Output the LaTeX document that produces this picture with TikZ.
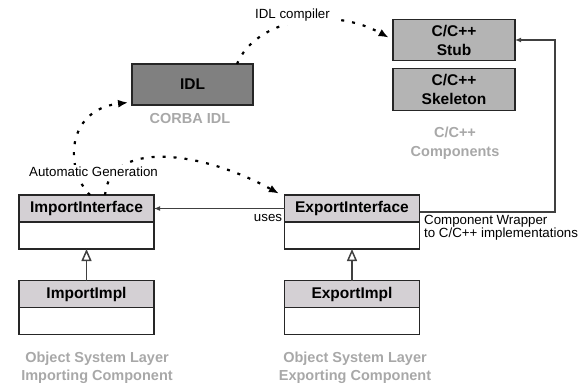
\documentclass[tikz,border=0pt]{standalone}
\usepackage{fontspec}
\setmainfont{Liberation Sans}
\usetikzlibrary{arrows.meta}
\definecolor{hdrgray}{HTML}{D4D0D4}
\definecolor{idlgray}{HTML}{808080}
\definecolor{compgray}{HTML}{B4B4B4}
\definecolor{lblgray}{HTML}{A8A8A8}
\definecolor{linegray}{HTML}{404040}
\begin{document}
\begin{tikzpicture}[x=1pt,y=-1pt,
  box/.style={draw=black!85, line width=1.3pt, inner sep=0pt, outer sep=0pt, align=center},
  hdr/.style={box, fill=hdrgray, minimum width=135pt, minimum height=27pt, font=\fontsize{15.5}{19}\selectfont\bfseries},
  bdy/.style={box, fill=white, minimum width=135pt, minimum height=27pt},
  compbox/.style={box, fill=compgray, minimum width=122pt, minimum height=41.5pt, font=\fontsize{15.5}{19}\selectfont\bfseries},
  glabel/.style={text=lblgray, align=center, font=\fontsize{14.5}{18.5}\selectfont\bfseries, inner sep=0pt},
  rlabel/.style={font=\fontsize{13.3}{10.5}\selectfont, inner sep=1pt},
  gen/.style={draw=black, line width=2.2pt, dash pattern=on 3pt off 8pt, -{Latex[length=10pt,width=8pt]}},
  conn/.style={draw=linegray, line width=1.5pt},
  smalltip/.style={-{Latex[length=6pt,width=5pt]}},
  inherit/.style={-{Triangle[open, length=12pt, width=10pt]}},
]
\useasboundingbox (0,0) rectangle (580,389);

% boxes
\node[box, fill=idlgray, minimum width=121pt, minimum height=41pt, font=\fontsize{15.5}{19}\selectfont\bfseries] (idl) at (192.5,84.5) {IDL};
\node[compbox] (stub) at (454,40) {C/C++\\Stub};
\node[compbox] (skel) at (454,89.5) {C/C++\\Skeleton};

\node[hdr] (impH) at (86.5,208.5) {ImportInterface};
\node[bdy, anchor=north] (impB) at (impH.south) {};
\node[hdr] (impIH) at (86.5,294) {ImportImpl};
\node[bdy, anchor=north] (impIB) at (impIH.south) {};

\node[hdr] (expH) at (352,208.5) {ExportInterface};
\node[bdy, anchor=north] (expB) at (expH.south) {};
\node[hdr] (expIH) at (352,294) {ExportImpl};
\node[bdy, anchor=north] (expIB) at (expIH.south) {};

% gray labels
\node[glabel] (corba) at (190,119) {CORBA IDL};
\node[glabel] (comps) at (455,143) {C/C++\\Components};
\node[glabel] (implbl) at (97,368) {Object System Layer\\Importing Component};
\node[glabel] (explbl) at (355,368) {Object System Layer\\Exporting Component};

% connectors
\draw[conn, smalltip] (expH.west) -- (impH.east);
\node[rlabel] (uses) at (268,217.5) {uses};

\coordinate (w1) at (555,212);
\coordinate (w2) at (555,40);
\draw[conn, smalltip] (expH.east |- w1) -- (w1) -- (w2) -- (stub.east);
\node[rlabel, anchor=north west, align=left] (wrap) at (423,214) {Component Wrapper\\to C/C++ implementations};

\draw[conn, inherit] (impIH.north) -- (impB.south);
\draw[conn, inherit] (expIH.north) -- (expB.south);

% generation curves
\coordinate (g0) at ([xshift=44.5pt]idl.north);
\draw[gen, shorten >=5pt] (g0) .. controls (255,20) and (330,5) .. (stub.west);
\node[rlabel, fill=white, inner sep=4pt] (idlc) at (292.5,15) {IDL compiler};

\coordinate (a0) at ([xshift=3.5pt]impH.north);
\coordinate (a1) at ([xshift=18.5pt]impH.north);
\coordinate (idlin) at ([yshift=3pt]idl.south west);
\coordinate (expin) at ([xshift=-3pt]expH.north west);
\draw[gen, shorten >=4pt] (a0) .. controls (65,170) and (65,110) .. (idlin);
\draw[gen, shorten >=3pt] (a1) .. controls (110,140) and (200,150) .. (expin);
\node[rlabel, fill=white, inner sep=2pt] (autogen) at (93.5,171.5) {Automatic Generation};
\end{tikzpicture}
\end{document}
